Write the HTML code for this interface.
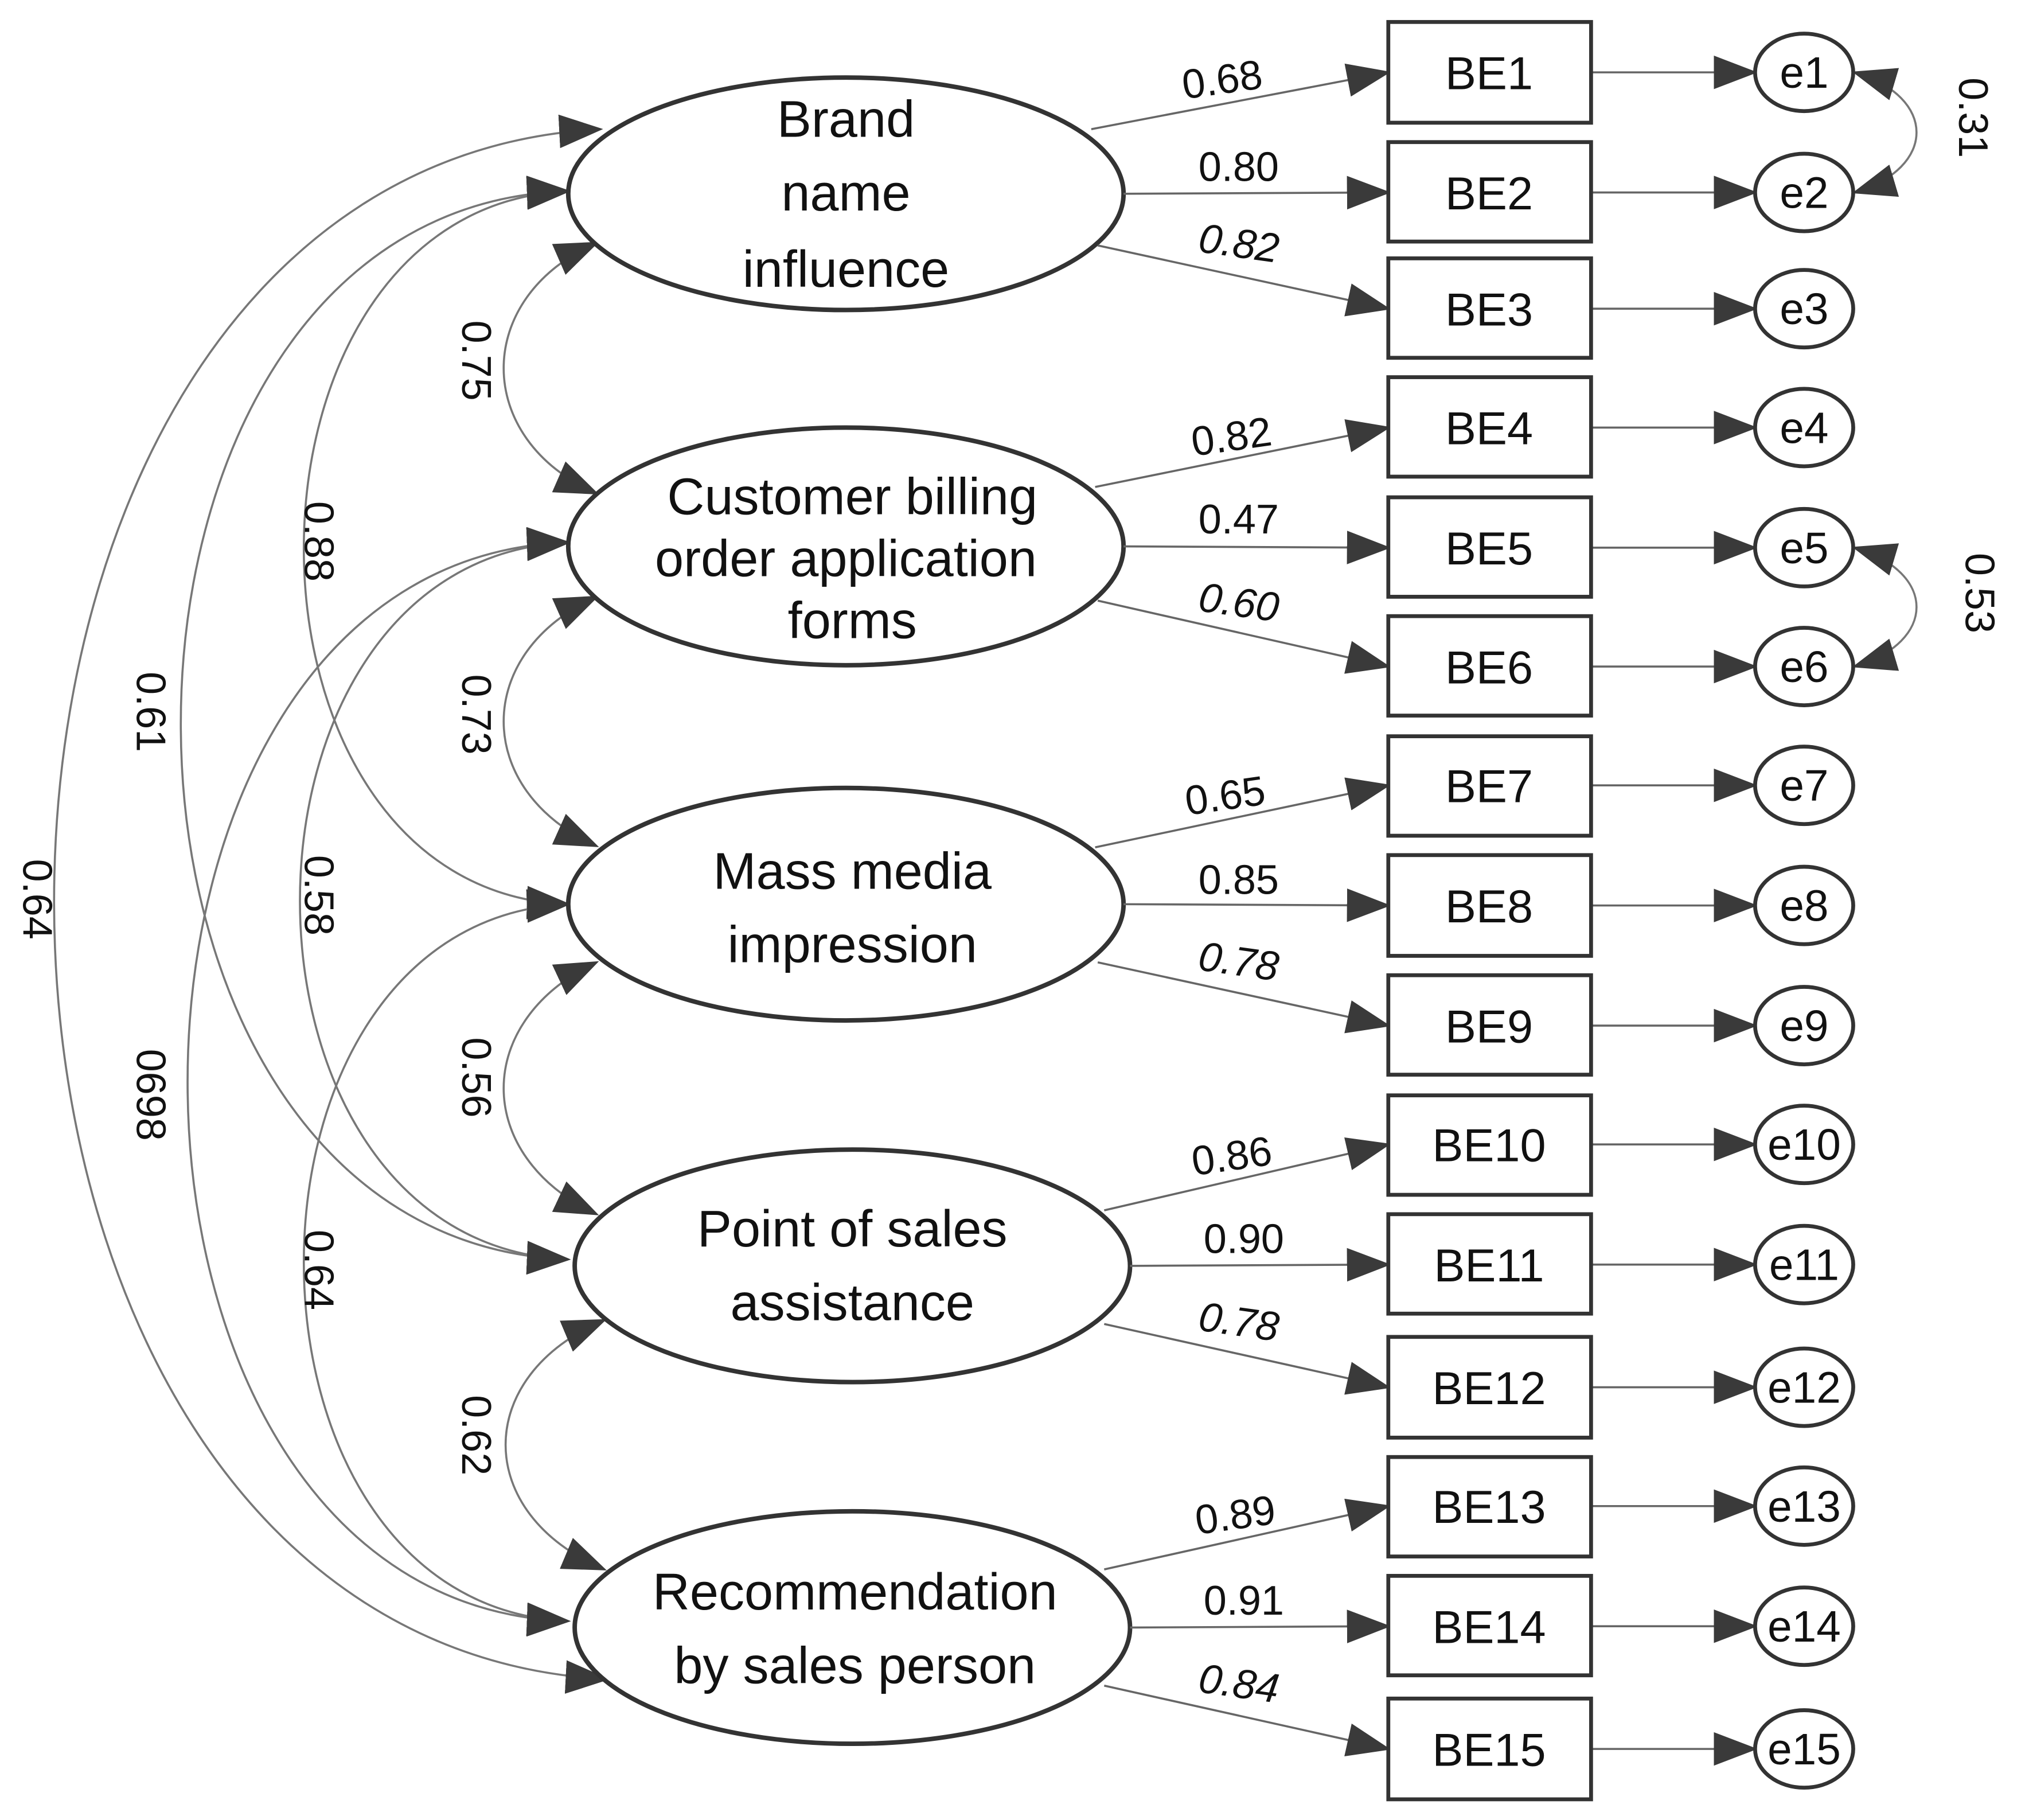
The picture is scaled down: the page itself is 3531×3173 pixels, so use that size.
<!DOCTYPE html>
<html><head><meta charset="utf-8"><style>html,body{margin:0;padding:0;background:#fff}svg{display:block}</style></head>
<body>
<svg xmlns="http://www.w3.org/2000/svg" width="3531" height="3173" viewBox="0 0 1568 1409" font-family="Liberation Sans, sans-serif">
<defs>
<marker id="a" markerUnits="userSpaceOnUse" markerWidth="34" markerHeight="26" refX="32" refY="13" orient="auto-start-reverse"><path d="M0,0 L34,13 L0,26 Z" fill="#3a3a3a"/></marker>
</defs>
<rect width="1568" height="1409" fill="#fff"/>
<g fill="none" stroke="#777" stroke-width="1.6">
<!-- adjacent covariances -->
<path d="M462,188 C366,230 366,340 462,382" marker-start="url(#a)" marker-end="url(#a)"/>
<path d="M462,462 C366,505 366,612 462,655" marker-start="url(#a)" marker-end="url(#a)"/>
<path d="M462,745 C366,790 366,895 462,940" marker-start="url(#a)" marker-end="url(#a)"/>
<path d="M468,1022 C366,1065 366,1172 468,1215" marker-start="url(#a)" marker-end="url(#a)"/>
<!-- long covariances -->
<path d="M465,100 C-100,130 -100,1270 470,1300" marker-start="url(#a)" marker-end="url(#a)"/>
<path d="M440,148 C40,160 40,960 440,975" marker-start="url(#a)" marker-end="url(#a)"/>
<path d="M440,148 C167,160 167,690 440,700" marker-start="url(#a)" marker-end="url(#a)"/>
<path d="M440,420 C47,432 47,1243 440,1255" marker-start="url(#a)" marker-end="url(#a)"/>
<path d="M440,420 C163,432 163,963 440,975" marker-start="url(#a)" marker-end="url(#a)"/>
<path d="M440,700 C167,712 167,1243 440,1255" marker-start="url(#a)" marker-end="url(#a)"/>
<!-- error covariances -->
<path d="M1436,56 C1500,75 1500,130 1436,149" marker-start="url(#a)" marker-end="url(#a)"/>
<path d="M1436,424 C1500,443 1500,497 1436,516" marker-start="url(#a)" marker-end="url(#a)"/>
</g>
<g font-size="32" fill="#111">
<text transform="translate(358,248) rotate(90)">0.75</text>
<text transform="translate(358,522) rotate(90)">0.73</text>
<text transform="translate(358,803) rotate(90)">0.56</text>
<text transform="translate(358,1080) rotate(90)">0.62</text>
<text transform="translate(236,388) rotate(90)">0.88</text>
<text transform="translate(236,662) rotate(90)">0.58</text>
<text transform="translate(236,952) rotate(90)">0.64</text>
<text transform="translate(106,520) rotate(90)">0.61</text>
<text transform="translate(106,812) rotate(90)">0698</text>
<text transform="translate(18,665) rotate(90)">0.64</text>
<text transform="translate(1517,60) rotate(90)">0.31</text>
<text transform="translate(1522,428) rotate(90)">0.53</text>
</g>
<g fill="#fff" stroke="#333" stroke-width="3.5">
<ellipse cx="655" cy="150" rx="215" ry="90"/>
<ellipse cx="655" cy="423" rx="215" ry="92"/>
<ellipse cx="655" cy="700" rx="215" ry="90"/>
<ellipse cx="660" cy="980" rx="215" ry="90"/>
<ellipse cx="660" cy="1260" rx="215" ry="90"/>
</g>
<g font-size="40" fill="#111" text-anchor="middle">
<text x="655" y="106">Brand</text><text x="655" y="163">name</text><text x="655" y="222">influence</text>
<text x="660" y="398">Customer billing</text><text x="655" y="446">order application</text><text x="660" y="494">forms</text>
<text x="660" y="688">Mass media</text><text x="660" y="745">impression</text>
<text x="660" y="965">Point of sales</text><text x="660" y="1022">assistance</text>
<text x="662" y="1246">Recommendation</text><text x="662" y="1303">by sales person</text>
</g>
<g stroke="#666" stroke-width="1.6" fill="none">
<path d="M845,100 L1075,56" marker-end="url(#a)"/><path d="M870,150 L1075,149" marker-end="url(#a)"/><path d="M850,190 L1075,239" marker-end="url(#a)"/>
<path d="M848,377 L1075,331" marker-end="url(#a)"/><path d="M870,423 L1075,424" marker-end="url(#a)"/><path d="M850,465 L1075,516" marker-end="url(#a)"/>
<path d="M848,656 L1075,608" marker-end="url(#a)"/><path d="M870,700 L1075,701" marker-end="url(#a)"/><path d="M850,745 L1075,794" marker-end="url(#a)"/>
<path d="M855,937 L1075,886" marker-end="url(#a)"/><path d="M875,980 L1075,979" marker-end="url(#a)"/><path d="M855,1025 L1075,1074" marker-end="url(#a)"/>
<path d="M855,1215 L1075,1166" marker-end="url(#a)"/><path d="M875,1260 L1075,1259" marker-end="url(#a)"/><path d="M855,1305 L1075,1354" marker-end="url(#a)"/>
</g>
<g font-size="32" fill="#111">
<text x="915" y="72" transform="rotate(-8 950 60)">0.68</text>
<text x="928" y="140">0.80</text>
<text x="928" y="200" font-style="italic" transform="rotate(8 965 190)">0.82</text>
<text x="922" y="348" transform="rotate(-8 960 335)">0.82</text>
<text x="928" y="413">0.47</text>
<text x="928" y="478" font-style="italic" transform="rotate(8 965 468)">0.60</text>
<text x="917" y="626" transform="rotate(-8 955 612)">0.65</text>
<text x="928" y="692">0.85</text>
<text x="928" y="756" font-style="italic" transform="rotate(8 965 745)">0.78</text>
<text x="922" y="905" transform="rotate(-8 960 890)">0.86</text>
<text x="932" y="970">0.90</text>
<text x="928" y="1035" font-style="italic" transform="rotate(8 965 1025)">0.78</text>
<text x="925" y="1183" transform="rotate(-8 962 1170)">0.89</text>
<text x="932" y="1250">0.91</text>
<text x="928" y="1315" font-style="italic" transform="rotate(8 965 1305)">0.84</text>
</g>
<g stroke="#666" stroke-width="1.6" fill="none">
<path d="M1232,56 L1359,56" marker-end="url(#a)"/><path d="M1232,149 L1359,149" marker-end="url(#a)"/><path d="M1232,239 L1359,239" marker-end="url(#a)"/>
<path d="M1232,331 L1359,331" marker-end="url(#a)"/><path d="M1232,424 L1359,424" marker-end="url(#a)"/><path d="M1232,516 L1359,516" marker-end="url(#a)"/>
<path d="M1232,608 L1359,608" marker-end="url(#a)"/><path d="M1232,701 L1359,701" marker-end="url(#a)"/><path d="M1232,794 L1359,794" marker-end="url(#a)"/>
<path d="M1232,886 L1359,886" marker-end="url(#a)"/><path d="M1232,979 L1359,979" marker-end="url(#a)"/><path d="M1232,1074 L1359,1074" marker-end="url(#a)"/>
<path d="M1232,1166 L1359,1166" marker-end="url(#a)"/><path d="M1232,1259 L1359,1259" marker-end="url(#a)"/><path d="M1232,1354 L1359,1354" marker-end="url(#a)"/>
</g>
<g fill="#fff" stroke="#333" stroke-width="3">
<rect x="1075" y="17" width="157" height="78"/><rect x="1075" y="110" width="157" height="77"/><rect x="1075" y="200" width="157" height="77"/>
<rect x="1075" y="292" width="157" height="77"/><rect x="1075" y="385" width="157" height="77"/><rect x="1075" y="477" width="157" height="77"/>
<rect x="1075" y="570" width="157" height="77"/><rect x="1075" y="662" width="157" height="78"/><rect x="1075" y="755" width="157" height="77"/>
<rect x="1075" y="848" width="157" height="77"/><rect x="1075" y="940" width="157" height="77"/><rect x="1075" y="1035" width="157" height="78"/>
<rect x="1075" y="1128" width="157" height="77"/><rect x="1075" y="1220" width="157" height="77"/><rect x="1075" y="1315" width="157" height="78"/>
</g>
<g fill="#fff" stroke="#333" stroke-width="3">
<ellipse cx="1397" cy="56" rx="38" ry="30"/><ellipse cx="1397" cy="149" rx="38" ry="30"/><ellipse cx="1397" cy="239" rx="38" ry="30"/>
<ellipse cx="1397" cy="331" rx="38" ry="30"/><ellipse cx="1397" cy="424" rx="38" ry="30"/><ellipse cx="1397" cy="516" rx="38" ry="30"/>
<ellipse cx="1397" cy="608" rx="38" ry="30"/><ellipse cx="1397" cy="701" rx="38" ry="30"/><ellipse cx="1397" cy="794" rx="38" ry="30"/>
<ellipse cx="1397" cy="886" rx="38" ry="30"/><ellipse cx="1397" cy="979" rx="38" ry="30"/><ellipse cx="1397" cy="1074" rx="38" ry="30"/>
<ellipse cx="1397" cy="1166" rx="38" ry="30"/><ellipse cx="1397" cy="1259" rx="38" ry="30"/><ellipse cx="1397" cy="1354" rx="38" ry="30"/>
</g>
<g font-size="36" fill="#111" text-anchor="middle">
<text x="1153" y="69">BE1</text><text x="1153" y="162">BE2</text><text x="1153" y="252">BE3</text>
<text x="1153" y="344">BE4</text><text x="1153" y="437">BE5</text><text x="1153" y="529">BE6</text>
<text x="1153" y="621">BE7</text><text x="1153" y="714">BE8</text><text x="1153" y="807">BE9</text>
<text x="1153" y="899">BE10</text><text x="1153" y="992">BE11</text><text x="1153" y="1087">BE12</text>
<text x="1153" y="1179">BE13</text><text x="1153" y="1272">BE14</text><text x="1153" y="1367">BE15</text>
</g>
<g font-size="34" fill="#111" text-anchor="middle">
<text x="1397" y="68">e1</text><text x="1397" y="161">e2</text><text x="1397" y="251">e3</text>
<text x="1397" y="343">e4</text><text x="1397" y="436">e5</text><text x="1397" y="528">e6</text>
<text x="1397" y="620">e7</text><text x="1397" y="713">e8</text><text x="1397" y="806">e9</text>
<text x="1397" y="898">e10</text><text x="1397" y="991">e11</text><text x="1397" y="1086">e12</text>
<text x="1397" y="1178">e13</text><text x="1397" y="1271">e14</text><text x="1397" y="1366">e15</text>
</g>
</svg>
</body></html>
